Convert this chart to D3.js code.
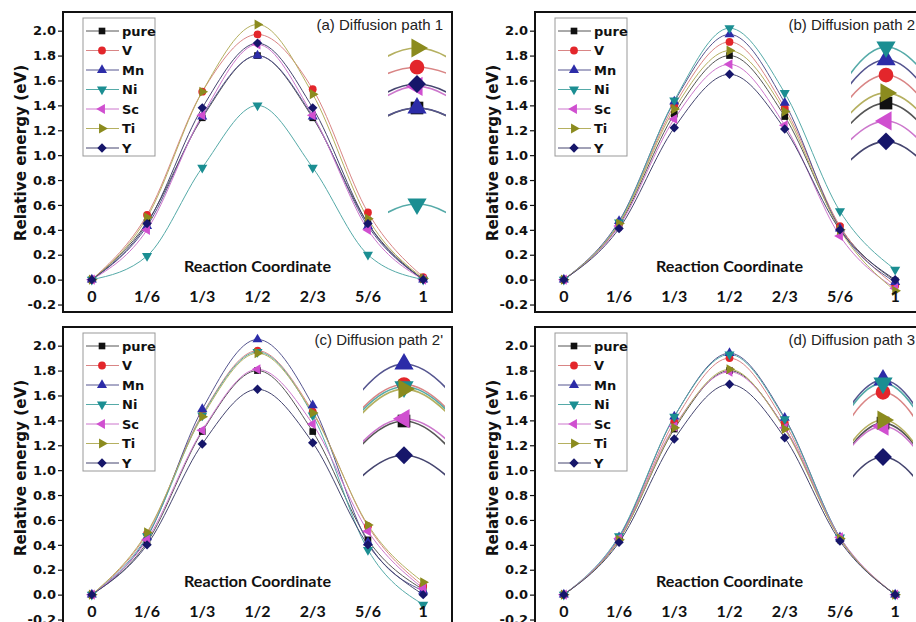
<!DOCTYPE html>
<html>
<head>
<meta charset="utf-8">
<script src="https://cdn.jsdelivr.net/npm/d3@7"></script>
<style>
  body { margin: 0; background: #fff; }
  svg { display: block; }
  .ytick text { font-family: "DejaVu Sans", sans-serif; font-weight: bold; font-size: 13px; fill: #111; }
  .ytick line { stroke: #111; stroke-width: 1.2; }
  .ylabel { font-family: "DejaVu Sans", sans-serif; font-weight: bold; font-size: 15.2px; fill: #111; }
  .xlab { font-family: Lato, sans-serif; font-weight: bold; font-size: 16px; fill: #111; }
  .title { font-family: "Liberation Sans", Arial, sans-serif; font-size: 15px; fill: #222; }
  .legend text { font-family: "DejaVu Sans", sans-serif; font-weight: bold; font-size: 13px; fill: #111; }
</style>
</head>
<body>
<svg width="916" height="622"></svg>
<script>
// reaction coordinate and tick labels
const coords = [0, 1/6, 1/3, 1/2, 2/3, 5/6, 1];
const coordLabels = ["0", "1/6", "1/3", "1/2", "2/3", "5/6", "1"];
const seriesNames = ["pure", "V", "Mn", "Ni", "Sc", "Ti", "Y"];
const yTickValues = [-0.2, 0, 0.2, 0.4, 0.6, 0.8, 1.0, 1.2, 1.4, 1.6, 1.8, 2.0];
const panelTitles = ["(a) Diffusion path 1", "(b) Diffusion path 2", "(c) Diffusion path 2'", "(d) Diffusion path 3"];

// relative energies (eV), one row per series in seriesNames order
const path1 = [
  [0, 0.46, 1.30, 1.80, 1.30, 0.45, 0],
  [0, 0.52, 1.51, 1.97, 1.53, 0.54, 0.02],
  [0, 0.43, 1.31, 1.80, 1.31, 0.43, 0],
  [0, 0.19, 0.90, 1.40, 0.90, 0.20, 0],
  [0, 0.40, 1.32, 1.89, 1.32, 0.40, 0],
  [0, 0.50, 1.51, 2.05, 1.49, 0.49, 0.01],
  [0, 0.45, 1.38, 1.90, 1.38, 0.45, 0]
];
const path2 = [
  [0, 0.44, 1.33, 1.80, 1.31, 0.42, -0.01],
  [0, 0.45, 1.40, 1.91, 1.38, 0.43, -0.05],
  [0, 0.47, 1.43, 1.97, 1.42, 0.41, -0.02],
  [0, 0.46, 1.44, 2.02, 1.50, 0.55, 0.08],
  [0, 0.43, 1.29, 1.73, 1.24, 0.35, -0.07],
  [0, 0.45, 1.37, 1.84, 1.35, 0.40, -0.09],
  [0, 0.41, 1.22, 1.65, 1.21, 0.40, 0]
];
const path2p = [
  [0, 0.42, 1.31, 1.80, 1.31, 0.44, 0.04],
  [0, 0.49, 1.45, 1.96, 1.47, 0.55, 0.07],
  [0, 0.46, 1.49, 2.05, 1.52, 0.42, 0.03],
  [0, 0.47, 1.44, 1.95, 1.44, 0.36, -0.08],
  [0, 0.44, 1.32, 1.81, 1.37, 0.51, 0.05],
  [0, 0.50, 1.43, 1.94, 1.46, 0.56, 0.10],
  [0, 0.40, 1.21, 1.65, 1.22, 0.40, 0]
];
const path3 = [
  [0, 0.44, 1.33, 1.80, 1.34, 0.45, 0],
  [0, 0.45, 1.39, 1.90, 1.38, 0.45, 0],
  [0, 0.46, 1.43, 1.94, 1.42, 0.46, 0],
  [0, 0.47, 1.43, 1.93, 1.41, 0.46, 0],
  [0, 0.45, 1.35, 1.79, 1.34, 0.46, 0],
  [0, 0.44, 1.34, 1.81, 1.33, 0.45, 0],
  [0, 0.42, 1.25, 1.69, 1.26, 0.43, 0]
];

const markerColors = ["#111111", "#e3262b", "#2c2ca8", "#1b8e92", "#d04fd0", "#8b8b1e", "#16166a"];
const lineColors = ["#555555", "#d98585", "#55558f", "#55aaa8", "#cc77cc", "#b5b060", "#45456f"];
const symbolTypes = [d3.symbolSquare, d3.symbolCircle, d3.symbolTriangle, d3.symbolTriangle,
                     d3.symbolTriangle, d3.symbolTriangle, d3.symbolSquare];
const symbolRot = [0, 0, 0, 180, -90, 90, 45];

const svg = d3.select("svg");
const W = 389, H = 300;

// inset = magnified view of the barrier top
const panels = [
  { data: path1, left: 63, top: 12, inset: { cx: 417, hw: 29, xk: 850, v0: 2.05, y0: 48, yk: 240 } },
  { data: path2, left: 535, top: 12, inset: { cx: 886, hw: 35, xk: 600, v0: 2.02, y0: 47, yk: 255 } },
  { data: path2p, left: 63, top: 327, inset: { cx: 404, hw: 41, xk: 640, v0: 2.05, y0: 364, yk: 228 } },
  { data: path3, left: 535, top: 327, inset: { cx: 883, hw: 30, xk: 560, v0: 1.94, y0: 380, yk: 308 } }
];

const drawMarker = (g, i, px, py, size) => {
  g.append("path")
    .attr("d", d3.symbol().type(symbolTypes[i]).size(size)())
    .attr("transform", `translate(${px},${py}) rotate(${symbolRot[i]})`)
    .attr("fill", markerColors[i]);
};

panels.forEach((p, pi) => {
  const g = svg.append("g");
  const x = d3.scaleLinear().domain([-0.087, 1.087]).range([p.left, p.left + W]);
  const y = d3.scaleLinear().domain([-0.26, 2.15]).range([p.top + H, p.top]);

  const clipId = "clip" + pi;
  svg.append("clipPath").attr("id", clipId)
    .append("rect").attr("x", p.left).attr("y", p.top).attr("width", W).attr("height", H);

  const plot = g.append("g").attr("clip-path", `url(#${clipId})`);

  const line = d3.line()
    .x((d, i) => x(coords[i]))
    .y(d => y(d))
    .curve(d3.curveMonotoneX);

  p.data.forEach((row, si) => {
    plot.append("path")
      .attr("d", line(row))
      .attr("fill", "none")
      .attr("stroke", lineColors[si])
      .attr("stroke-width", 1);
  });
  p.data.forEach((row, si) => {
    row.forEach((v, i) => drawMarker(plot, si, x(coords[i]), y(v), si === 1 ? 48 : 44));
  });

  // inset
  const ins = p.inset;
  const xi = d3.scaleLinear().domain([0.5 - ins.hw / ins.xk, 0.5 + ins.hw / ins.xk])
    .range([ins.cx - ins.hw, ins.cx + ins.hw]);
  const yi = d3.scaleLinear().domain([ins.v0, ins.v0 - 1]).range([ins.y0, ins.y0 + ins.yk]);
  const insClip = "iclip" + pi;
  svg.append("clipPath").attr("id", insClip)
    .append("rect").attr("x", ins.cx - ins.hw).attr("y", p.top + 20)
    .attr("width", ins.hw * 2).attr("height", H - 40);
  const ig = plot.append("g");
  const iline = d3.line()
    .x((d, i) => xi(coords[i]))
    .y(d => yi(d))
    .curve(d3.curveMonotoneX);
  const igl = ig.append("g").attr("clip-path", `url(#${insClip})`);
  p.data.forEach((row, si) => {
    igl.append("path")
      .attr("d", iline(row))
      .attr("fill", "none")
      .attr("stroke", lineColors[si])
      .attr("stroke-width", 1.6);
  });
  p.data.forEach((row, si) => {
    drawMarker(ig, si, xi(0.5), yi(row[3]), si === 1 ? 170 : 160);
  });

  // y axis
  const yAxis = d3.axisLeft(y)
    .tickValues(yTickValues)
    .tickSize(4)
    .tickPadding(2)
    .tickFormat(d => d.toFixed(1));
  g.append("g")
    .attr("class", "ytick")
    .attr("transform", `translate(${p.left - 1},0)`)
    .call(yAxis)
    .call(a => a.select(".domain").remove())
    .call(a => a.selectAll("text").attr("font-family", null).attr("font-size", null));

  g.append("text")
    .attr("class", "ylabel")
    .attr("transform", `translate(${p.left - 42},${p.top + 141}) rotate(-90)`)
    .attr("text-anchor", "middle")
    .attr("dy", "0.35em")
    .text("Relative energy (eV)");

  // x labels inside the frame
  g.selectAll(".xt")
    .data(coordLabels)
    .enter()
    .append("text")
    .attr("class", "xlab")
    .attr("x", (d, i) => x(coords[i]))
    .attr("y", y(0) + 22)
    .attr("text-anchor", "middle")
    .text(d => d);

  g.append("text")
    .attr("class", "xlab")
    .attr("x", x(0.5))
    .attr("y", y(0) - 8)
    .attr("text-anchor", "middle")
    .attr("textLength", 147)
    .attr("lengthAdjust", "spacingAndGlyphs")
    .text("Reaction Coordinate");

  g.append("text")
    .attr("class", "title")
    .attr("x", p.left + W - 9)
    .attr("y", p.top + 18)
    .attr("text-anchor", "end")
    .text(panelTitles[pi]);

  // legend
  const lx = p.left + 20, ly = p.top + 6;
  const leg = g.append("g").attr("class", "legend");
  leg.append("rect")
    .attr("x", lx).attr("y", ly).attr("width", 72).attr("height", 138)
    .attr("fill", "#fff").attr("stroke", "#999").attr("stroke-width", 1);
  seriesNames.forEach((name, si) => {
    const cy = ly + 13 + si * 19.5;
    leg.append("line")
      .attr("x1", lx + 3).attr("x2", lx + 36).attr("y1", cy).attr("y2", cy)
      .attr("stroke", lineColors[si]).attr("stroke-width", 1);
    drawMarker(leg, si, lx + 19, cy, si === 1 ? 48 : 44);
    leg.append("text")
      .attr("x", lx + 39).attr("y", cy).attr("dy", "0.36em")
      .text(name);
  });

  // frame
  g.append("rect")
    .attr("x", p.left).attr("y", p.top).attr("width", W).attr("height", H)
    .attr("fill", "none").attr("stroke", "#111").attr("stroke-width", 2);
});
</script>
</body>
</html>
